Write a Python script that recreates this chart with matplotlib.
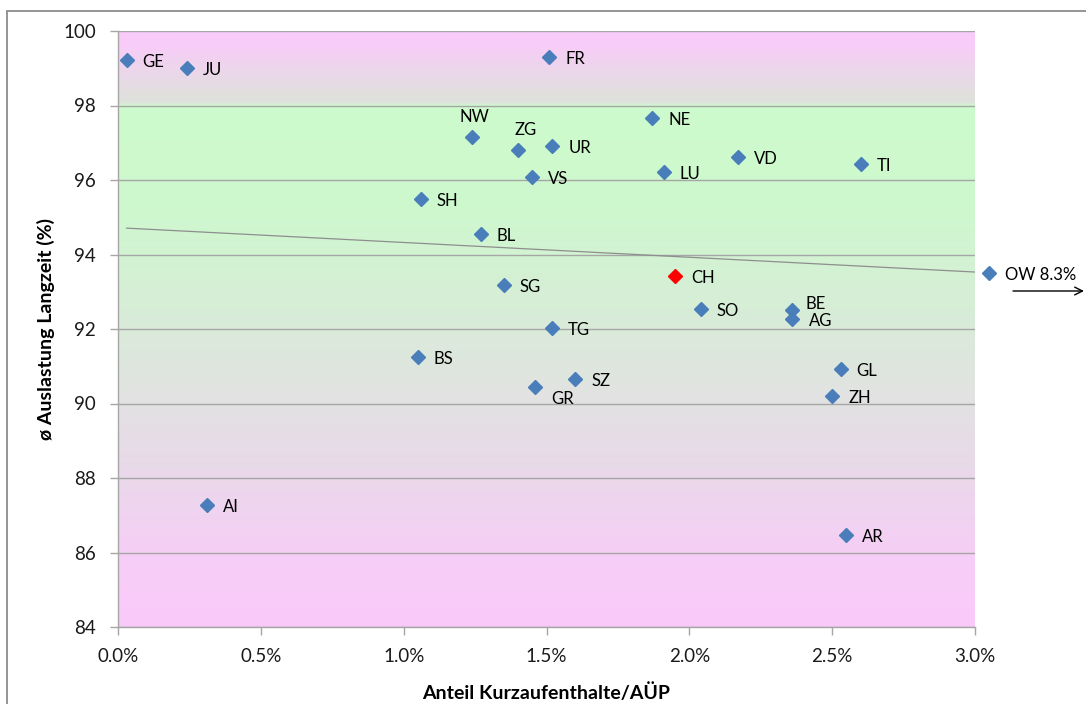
import numpy as np
import matplotlib
matplotlib.use("Agg")
import matplotlib.pyplot as plt
from matplotlib.colors import LinearSegmentedColormap
from matplotlib.patches import Rectangle
import matplotlib.transforms as mtransforms

# ---------------- data ----------------
cantons = ["GE", "JU", "FR", "NW", "ZG", "UR", "NE", "VD", "TI", "LU", "VS", "SH", "BL",
           "SG", "SO", "BE", "AG", "TG", "BS", "GL", "SZ", "GR", "ZH", "AI", "AR"]
share_short_stay = [0.03, 0.24, 1.51, 1.24, 1.40, 1.52, 1.87, 2.17, 2.60, 1.91, 1.45, 1.06, 1.27,
                    1.35, 2.04, 2.36, 2.36, 1.52, 1.05, 2.53, 1.60, 1.46, 2.50, 0.31, 2.55]
occupancy_long = [99.22, 99.00, 99.30, 97.15, 96.81, 96.91, 97.66, 96.62, 96.43, 96.21, 96.08, 95.49, 94.55,
                  93.18, 92.54, 92.51, 92.27, 92.03, 91.25, 90.93, 90.66, 90.44, 90.20, 87.28, 86.47]

ch_label, ch_x, ch_y = "CH", 1.95, 93.42
ow_label, ow_x_actual, ow_y = "OW", 8.3, 93.50

trend_intercept = 94.72   # % at x = 0
trend_slope = -0.397      # per percentage point

x_ticks = [0.0, 0.5, 1.0, 1.5, 2.0, 2.5, 3.0]
y_ticks = [84, 86, 88, 90, 92, 94, 96, 98, 100]

# label offsets in pixels (dx, dy) — layout only
default_off = (16, -2)
label_off = {"NW": (-13, 20), "ZG": (-3, 20), "BE": (13, 6), "AG": (17, -2),
             "GR": (16, -12), "ZH": (16, -2)}

# ---------------- style ----------------
FONT = ["Lato", "DejaVu Sans"]
plt.rcParams["font.family"] = FONT
MARK = "#4A7EBB"
GRID = "#A6A6A6"
LABEL_FS = 12

fig = plt.figure(figsize=(10.86, 7.04), dpi=100)
fig.patch.set_facecolor("white")

# outer chart frame
fig.patches.append(Rectangle((7 / 1086, -0.1), 1.2, (704 - 11) / 704 + 0.1,
                             transform=fig.transFigure, fill=False,
                             edgecolor="#8C8C8C", linewidth=1.3))

ax = fig.add_axes([118 / 1086, 77 / 704, (975 - 118) / 1086, (627 - 31) / 704])

# background gradient (top -> bottom)
stops = [(0.0, "#F9CBFA"), (0.02, "#F8CCF8"), (0.118, "#DDE3DA"), (0.124, "#CDFBCD"),
         (0.30, "#CEF8CE"), (0.45, "#D6EED6"), (0.62, "#E2E2E2"), (0.75, "#EAD8EA"),
         (0.88, "#F6CEF6"), (1.0, "#FACAFA")]
cmap = LinearSegmentedColormap.from_list("bg", stops)
grad = np.linspace(0, 1, 600).reshape(-1, 1)
ax.imshow(grad, cmap=cmap, aspect="auto", extent=[0, 3.0, 84, 100], origin="upper",
          zorder=0, interpolation="bilinear")
ax.set_xlim(0, 3.0)
ax.set_ylim(84, 100)

for yt in y_ticks:
    ax.axhline(yt, color=GRID, linewidth=1.0, zorder=1)

# trend line
tx = np.array([min(share_short_stay), ow_x_actual])
ax.plot(tx, trend_intercept + trend_slope * tx, color="#8E8E8E", linewidth=0.9, zorder=2)

# points
ax.plot(share_short_stay, occupancy_long, linestyle="none", marker="D", markersize=7.6,
        color=MARK, markeredgecolor=MARK, zorder=3)
ax.plot([ch_x], [ch_y], linestyle="none", marker="D", markersize=7.6,
        color="#FF0000", markeredgecolor="#FF0000", zorder=3)

for name, x, y in zip(cantons + [ch_label], share_short_stay + [ch_x], occupancy_long + [ch_y]):
    dx, dy = label_off.get(name, default_off)
    ax.annotate(name, (x, y), xytext=(dx, dy), textcoords="offset pixels",
                ha="left", va="center", fontsize=LABEL_FS, color="black", zorder=4)

# OW point outside the axis range
trans_ow = mtransforms.blended_transform_factory(ax.transAxes, ax.transData)
ow_trans = trans_ow + mtransforms.ScaledTranslation(14 / 100, 0, fig.dpi_scale_trans)
ax.plot([1.0], [ow_y], transform=ow_trans, linestyle="none", marker="D", markersize=7.6,
        color=MARK, markeredgecolor=MARK, clip_on=False, zorder=3)
ax.annotate(f"{ow_label} {ow_x_actual:.1f}%", (1.0, ow_y), xycoords=trans_ow,
            xytext=(30, -2), textcoords="offset pixels", ha="left", va="center",
            fontsize=LABEL_FS, annotation_clip=False)
ax.annotate("", xy=(1084 / 1086, (704 - 291) / 704), xycoords="figure fraction",
            xytext=(1013 / 1086, (704 - 291) / 704), textcoords="figure fraction",
            arrowprops=dict(arrowstyle="->", color="black", lw=1.0,
                            shrinkA=0, shrinkB=0, mutation_scale=14),
            annotation_clip=False)

# axes styling
for s in ["top", "right"]:
    ax.spines[s].set_visible(False)
for s in ["left", "bottom"]:
    ax.spines[s].set_color(GRID)
    ax.spines[s].set_linewidth(1.0)
ax.set_xticks(x_ticks)
ax.set_xticklabels([f"{v:.1f}%" for v in x_ticks])
ax.set_yticks(y_ticks)
ax.tick_params(axis="both", colors=GRID, labelcolor="#1A1A1A", labelsize=13.5,
               length=6, width=1.0, direction="out")
ax.tick_params(axis="x", pad=9)
ax.tick_params(axis="y", pad=10)
ax.set_xlabel("Anteil Kurzaufenthalte/AÜP", fontsize=14, fontweight="bold", labelpad=13)
ax.set_ylabel("ø Auslastung Langzeit (%)", fontsize=14, fontweight="bold", labelpad=6)

fig.savefig("out.png", dpi=100, facecolor="white")
